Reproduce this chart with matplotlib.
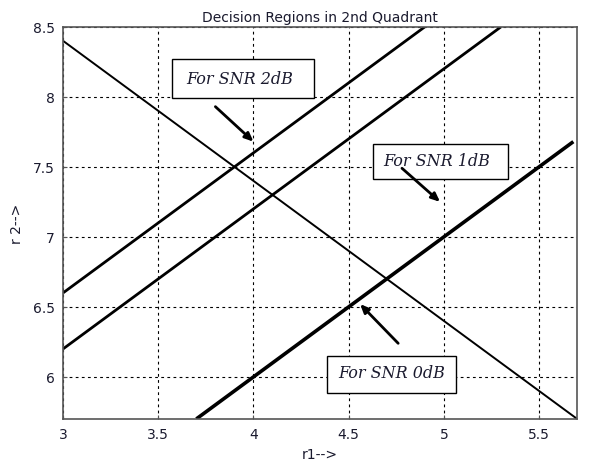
import numpy as np
import matplotlib
matplotlib.use("Agg")
import matplotlib.pyplot as plt
from matplotlib.patches import Rectangle

# Decision boundaries: straight lines given by their end points (r1, r2)
boundary_r1 = [3.0, 5.7]
boundary_r2 = [8.4, 5.7]

snr_labels = ["For SNR 2dB", "For SNR 1dB", "For SNR 0dB"]
snr_r1 = [[3.0, 4.9], [3.0, 5.3], [3.7, 5.68]]
snr_r2 = [[6.6, 8.5], [6.2, 8.5], [5.7, 7.68]]

xticks = [3, 3.5, 4, 4.5, 5, 5.5]
yticks = [6, 6.5, 7, 7.5, 8, 8.5]

fig = plt.figure(figsize=(5.95, 4.64), dpi=100)
ax = fig.add_axes([0.106, 0.095, 0.864, 0.845])

text_color = "#1a1a2e"

ax.plot(boundary_r1, boundary_r2, color="black", lw=1.4, solid_capstyle="butt")
for xs, ys, lw in zip(snr_r1, snr_r2, [2.0, 2.0, 2.6]):
    ax.plot(xs, ys, color="black", lw=lw, solid_capstyle="butt")

ax.set_xlim(3, 5.7)
ax.set_ylim(5.7, 8.5)
ax.set_xticks(xticks)
ax.set_xticklabels([f"{t:g}" for t in xticks])
ax.set_yticks(yticks)
ax.set_yticklabels([f"{t:g}" for t in yticks])
ax.grid(True, color="black", linestyle=(0, (2.5, 3)), linewidth=0.8)
ax.tick_params(direction="in", length=3, color="#555555", labelsize=10,
               labelcolor=text_color, pad=6)
for s in ax.spines.values():
    s.set_color("#555555")
    s.set_linewidth(1.2)

ax.set_title("Decision Regions in 2nd Quadrant", fontsize=10, color=text_color, pad=4)
ax.set_xlabel("r1-->", fontsize=10, color=text_color, labelpad=4)
ax.set_ylabel("r 2-->", fontsize=10, color=text_color, labelpad=6)

# Annotation boxes: (left, bottom, right, top), text anchor (left, middle),
# arrow tail -> head
boxes = [(3.574, 7.993, 4.316, 8.271),
         (4.626, 7.414, 5.337, 7.664),
         (4.384, 5.886, 5.063, 6.150)]
text_xy = [(3.645, 8.134), (4.683, 7.549), (4.447, 6.030)]
arrow_tail = [(3.80, 7.93), (4.78, 7.49), (4.76, 6.24)]
arrow_head = [(4.00, 7.68), (4.98, 7.25), (4.56, 6.52)]

for label, (x0, y0, x1, y1), (tx, ty), tail, head in zip(
        snr_labels, boxes, text_xy, arrow_tail, arrow_head):
    ax.add_patch(Rectangle((x0, y0), x1 - x0, y1 - y0, fc="white", ec="black",
                           lw=1.0, zorder=4))
    ax.text(tx, ty, label, ha="left", va="center", fontsize=11.5,
            family="DejaVu Serif", style="italic", color=text_color, zorder=5)
    ax.annotate("", xy=head, xytext=tail,
                arrowprops=dict(arrowstyle="-|>,head_length=0.5,head_width=0.22",
                                color="black", lw=2.0, shrinkA=0, shrinkB=0),
                zorder=5)

fig.savefig("out.png", dpi=100, facecolor="white")
